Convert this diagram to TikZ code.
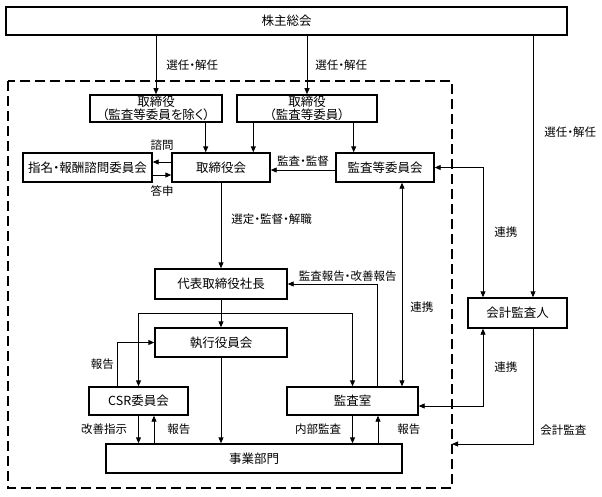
\documentclass[tikz,border=0pt]{standalone}
\usepackage{fontspec}
\setmainfont[RawFeature=+palt]{Noto Sans CJK JP}
\usetikzlibrary{arrows.meta,calc}

\tikzset{
    box/.style={draw, line width=1.4pt, inner sep=1pt, align=center, font=\fontsize{12.5}{13.5}\selectfont},
    lab/.style={inner sep=1pt, font=\fontsize{11.5}{12}\selectfont},
    arr/.style={-{Triangle[length=6pt,width=5pt]}, line width=0.9pt},
    darr/.style={{Triangle[length=6pt,width=5pt]}-{Triangle[length=6pt,width=5pt]}, line width=0.9pt}
}

\begin{document}
\begin{tikzpicture}[x=1pt,y=-1pt]
    \useasboundingbox (0,0) rectangle (602,496);
    \draw[line width=2.4pt, dash pattern=on 10pt off 5pt] (8,81) rectangle (452,488);

    \node[box, minimum width=561pt, minimum height=28pt] (soukai) at (286.5,21) {株主総会};
    \node[box, minimum width=132pt, minimum height=27pt] (tori1) at (156,108.5) {取締役\\（監査等委員を除く）};
    \node[box, minimum width=140pt, minimum height=27pt] (tori2) at (307,108.5) {取締役\\（監査等委員）};
    \node[box, minimum width=129pt, minimum height=29pt] (shimei) at (87.5,167.5) {指名・報酬諮問委員会};
    \node[box, minimum width=98pt, minimum height=29pt] (torikai) at (221,167.5) {取締役会};
    \node[box, minimum width=98pt, minimum height=29pt] (kansaiin) at (385,167.5) {監査等委員会};
    \node[box, minimum width=132pt, minimum height=30pt] (daihyo) at (221,284) {代表取締役社長};
    \node[box, minimum width=132pt, minimum height=29pt] (shikko) at (221,342.5) {執行役員会};
    \node[box, minimum width=99pt, minimum height=28pt] (csr) at (138.5,401) {CSR委員会};
    \node[box, minimum width=131pt, minimum height=28pt] (kansashitsu) at (352.5,401) {監査室};
    \node[box, minimum width=296pt, minimum height=29pt] (jigyo) at (254,458.5) {事業部門};
    \node[box, minimum width=99pt, minimum height=30pt] (kaikei) at (517.5,313) {会計監査人};

    \coordinate (fork) at ($(daihyo.south)!0.5!(shikko.north)$);
    \coordinate (audit) at (452,444);

    \draw[arr] (tori1.north |- soukai.south) -- node[lab, right=9pt]{選任・解任} (tori1.north);
    \draw[arr] (tori2.north |- soukai.south) -- node[lab, right=7pt]{選任・解任} (tori2.north);
    \draw[arr] ([xshift=15.5pt]kaikei.north |- soukai.south) -- node[lab, right=10pt, pos=0.37]{選任・解任} ([xshift=15.5pt]kaikei.north);

    \draw[arr] ([xshift=-17pt]tori1.south east) -- ([xshift=-17pt]tori1.south east |- torikai.north);
    \draw[arr] ([xshift=17pt]tori2.south west) -- ([xshift=17pt]tori2.south west |- torikai.north);
    \draw[arr] ([xshift=-24pt]tori2.south east) -- ([xshift=-24pt]tori2.south east |- kansaiin.north);

    \draw[arr] ([yshift=5.5pt]torikai.west) -- node[lab, above=10pt]{諮問} ([yshift=5.5pt]torikai.west -| shimei.east);
    \draw[arr] ([yshift=-7.5pt]shimei.east) -- node[lab, below=9pt]{答申} ([yshift=-7.5pt]shimei.east -| torikai.west);
    \draw[arr] ([yshift=-2.5pt]kansaiin.west) -- node[lab, above=2pt]{監査・監督} ([yshift=-2.5pt]kansaiin.west -| torikai.east);

    \draw[arr] (torikai.south) -- node[lab, right=9pt, pos=0.42]{選定・監督・解職} (daihyo.north);
    \draw[arr] (daihyo.south) -- (shikko.north);
    \draw[arr] (fork) -| (csr.north);
    \draw[arr] (fork) -| (kansashitsu.north);
    \draw[arr] ([xshift=29pt]csr.north west) |- node[lab, left=2pt, pos=0.25]{報告} (shikko.west);
    \draw[arr] ([xshift=-41pt]kansashitsu.north east) |- node[lab, anchor=south, pos=0.5, xshift=-30pt, yshift=1pt]{監査報告・改善報告} (daihyo.east);

    \draw[darr] ([xshift=17pt]kansaiin.south) -- node[lab, right=7pt, pos=0.61]{連携} ([xshift=17pt]kansaiin.south |- kansashitsu.north);
    \draw[darr] (kansaiin.east) -| node[lab, right=10pt, pos=0.75]{連携} ([xshift=-34.5pt]kaikei.north);
    \draw[darr] ([xshift=-34.5pt]kaikei.south) |- node[lab, right=10pt, pos=0.25]{連携} ([yshift=-5pt]kansashitsu.east);
    \draw[arr] ([xshift=15.5pt]kaikei.south) |- node[lab, right=6pt, pos=0.44]{会計監査} (audit);

    \draw[arr] (shikko.south) -- (shikko.south |- jigyo.north);
    \draw[arr] (csr.south) -- node[lab, left=10pt]{改善指示} (csr.south |- jigyo.north);
    \draw[arr] ([xshift=15.5pt]csr.south |- jigyo.north) -- node[lab, right=12pt]{報告} ([xshift=15.5pt]csr.south);
    \draw[arr] (kansashitsu.south) -- node[lab, left=10pt]{内部監査} (kansashitsu.south |- jigyo.north);
    \draw[arr] ([xshift=25.5pt]kansashitsu.south |- jigyo.north) -- node[lab, right=18pt]{報告} ([xshift=25.5pt]kansashitsu.south);
\end{tikzpicture}
\end{document}
